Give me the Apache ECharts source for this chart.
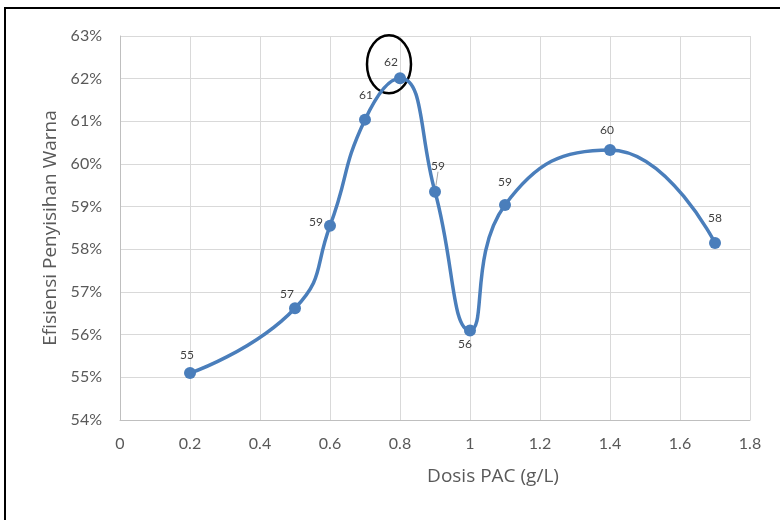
<!DOCTYPE html>
<html>
<head>
<meta charset="utf-8">
<script src="https://cdn.jsdelivr.net/npm/echarts@6/dist/echarts.min.js"></script>
<style>
  html, body { margin: 0; padding: 0; background: #fff; }
  #chart { width: 780px; height: 520px; }
</style>
</head>
<body>
<div id="chart"></div>
<script>
// dosis PAC (g/L) and removal efficiency (%)
const dosis = [0.2, 0.5, 0.6, 0.7, 0.8, 0.9, 1.0, 1.1, 1.4, 1.7];
const efisiensi = [55.1, 56.62, 58.55, 61.04, 62.01, 59.35, 56.1, 59.04, 60.33, 58.15];
const labelText = ['55', '57', '59', '61', '62', '59', '56', '59', '60', '58'];

// label nudges, style only
const labelOffset = [[-3, -18], [-8, -14], [-14, -4], [1, -25], [-9, -16],
                     [3, -26], [-5, 14], [0, -23], [-3, -20], [0, -25]];

const chart = echarts.init(document.getElementById('chart'));
const font = 'Lato, "Open Sans", sans-serif';
const titleFont = '"Open Sans", sans-serif';

const seriesData = dosis.map((x, i) => ({
  value: [x, efisiensi[i]],
  label: {
    formatter: labelText[i],
    offset: labelOffset[i]
  },
  labelLine: { show: i === 5, lineStyle: { color: '#a6a6a6', width: 1 } }
}));

chart.setOption({
  animation: false,
  grid: { left: 120, right: 30, top: 36, bottom: 100 },
  xAxis: {
    type: 'value',
    min: 0, max: 1.8, interval: 0.2,
    name: 'Dosis PAC (g/L)',
    nameLocation: 'middle',
    nameGap: 47,
    // title sits a bit right of the plot centre in the original
    nameTextStyle: { fontFamily: titleFont, fontSize: 19, color: '#595959', padding: [0, 0, 0, 116] },
    axisLine: { lineStyle: { color: '#bfbfbf', width: 1 } },
    axisTick: { show: false },
    axisLabel: { fontFamily: font, fontSize: 16, color: '#595959', margin: 16 },
    splitLine: { show: true, lineStyle: { color: '#d9d9d9', width: 1 } }
  },
  yAxis: {
    type: 'value',
    min: 54, max: 63, interval: 1,
    name: 'Efisiensi Penyisihan Warna',
    nameLocation: 'middle',
    nameGap: 60,
    nameTextStyle: { fontFamily: titleFont, fontSize: 19, color: '#595959' },
    axisLine: { show: true, lineStyle: { color: '#bfbfbf', width: 1 } },
    axisTick: { show: false },
    axisLabel: { fontFamily: font, fontSize: 16, color: '#595959', margin: 18, formatter: '{value}%' },
    splitLine: { show: true, lineStyle: { color: '#d9d9d9', width: 1 } }
  },
  series: [{
    type: 'line',
    data: seriesData,
    smooth: 0.5,
    symbol: 'circle',
    symbolSize: 12,
    lineStyle: { color: '#4a7ebb', width: 3.5 },
    itemStyle: { color: '#4a7ebb' },
    label: {
      show: true,
      position: 'inside',
      fontFamily: font,
      fontSize: 12,
      color: '#404040'
    }
  }]
});

// frame around the picture and the hand-drawn ring round the peak
const peak = chart.convertToPixel({ gridIndex: 0 }, [dosis[4], efisiensi[4]]);
chart.setOption({
  graphic: [
    {
      type: 'rect',
      shape: { x: 5, y: 8, width: 800, height: 540 },
      style: { fill: 'none', stroke: '#000', lineWidth: 2 }
    },
    {
      type: 'ellipse',
      shape: { cx: peak[0] - 11, cy: peak[1] - 14, rx: 22, ry: 29 },
      style: { fill: 'none', stroke: '#000', lineWidth: 2.5 }
    }
  ]
});
</script>
</body>
</html>
